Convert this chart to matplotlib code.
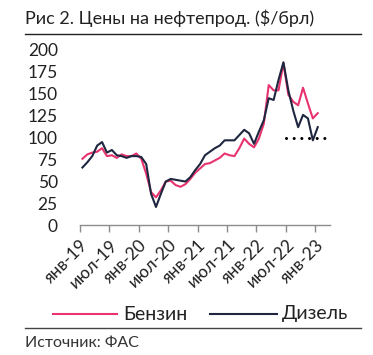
import matplotlib
matplotlib.use("Agg")
import matplotlib.pyplot as plt
from matplotlib.lines import Line2D

plt.rcParams['font.family'] = ['Lato', 'DejaVu Sans']

# monthly values, Jan 2019 .. Jan 2023, $/bbl
benzin = [76, 81, 83, 84, 88, 79, 80, 77, 81, 79, 79, 82, 76, 59, 38, 32, 40, 50, 51, 46,
          44, 47, 53, 60, 65, 70, 71, 74, 77, 82, 80, 79, 88, 99, 93, 89, 99, 116, 160, 154,
          154, 185, 149, 141, 137, 157, 139, 122, 128]
dizel = [66, 72, 79, 91, 95, 83, 86, 80, 79, 77, 79, 79, 78, 70, 36, 21, 36, 50, 53, 52,
         51, 50, 55, 63, 70, 80, 84, 88, 91, 97, 97, 97, 103, 109, 105, 93, 107, 120, 145, 143,
         166, 186, 154, 131, 112, 126, 122, 97, 112]
months = list(range(len(benzin)))

# dotted reference level, Jul 2022 .. Mar 2023
ref_x = [41.5, 50.0]
ref_y = [100, 100]

tick_labels = ["янв-19", "июл-19", "янв-20", "июл-20", "янв-21", "июл-21",
               "янв-22", "июл-22", "янв-23"]
tick_pos = [i * 6 - 0.5 for i in range(len(tick_labels))]

series_names = ["Бензин", "Дизель"]

pink = "#e8336f"
navy = "#1e2640"
grey = "#8c8c8c"

fig = plt.figure(figsize=(3.73, 3.55), dpi=100)
ax = fig.add_axes([80 / 373, 1 - 225.4 / 355, 250 / 373, 175.4 / 355])

ax.plot(months, benzin, color=pink, lw=1.5, solid_joinstyle="round")
ax.plot(months, dizel, color=navy, lw=1.5, solid_joinstyle="round")
ax.plot(ref_x, ref_y, color="black", lw=2.2, linestyle=(0, (0.01, 2.5)),
        dash_capstyle="round")

ax.set_xlim(-0.5, 50.5)
ax.set_ylim(0, 200)
ax.set_yticks(range(0, 201, 25))
ax.set_xticks(tick_pos)
ax.set_xticklabels(tick_labels, rotation=45, ha="right", va="top",
                   rotation_mode="anchor")
ax.tick_params(axis="y", length=0, pad=16, labelsize=12.5, labelcolor="#222222")
ax.tick_params(axis="x", length=5, width=1, color=grey, labelsize=12.5,
               labelcolor="#222222", pad=3)
for s in ["left", "right", "top"]:
    ax.spines[s].set_visible(False)
ax.spines["bottom"].set_color(grey)
ax.spines["bottom"].set_linewidth(1)

fig.text(25 / 373, 1 - 18 / 355, "Рис 2. Цены на нефтепрод. ($/брл)",
         fontsize=13, color="#222222", va="center", ha="left")
fig.add_artist(Line2D([25 / 373, 361 / 373], [1 - 34 / 355] * 2,
                      color="#222222", lw=1))
fig.add_artist(Line2D([25 / 373, 361 / 373], [1 - 327.5 / 355] * 2,
                      color="#444444", lw=1))

# legend drawn by hand to match the spacing of the original
leg_y = 1 - 314 / 355
for (x0, x1, tx), c, name in zip([(53, 117, 123), (210, 277, 282)], [pink, navy], series_names):
    fig.add_artist(Line2D([x0 / 373, x1 / 373], [leg_y, leg_y], color=c, lw=1.5))
    fig.text(tx / 373, leg_y, name, fontsize=14, color="#222222",
             va="center", ha="left")

fig.text(25 / 373, 1 - 343 / 355, "Источник: ФАС", fontsize=11.5,
         color="#333333", va="center", ha="left")

fig.savefig("out.png", dpi=100)
